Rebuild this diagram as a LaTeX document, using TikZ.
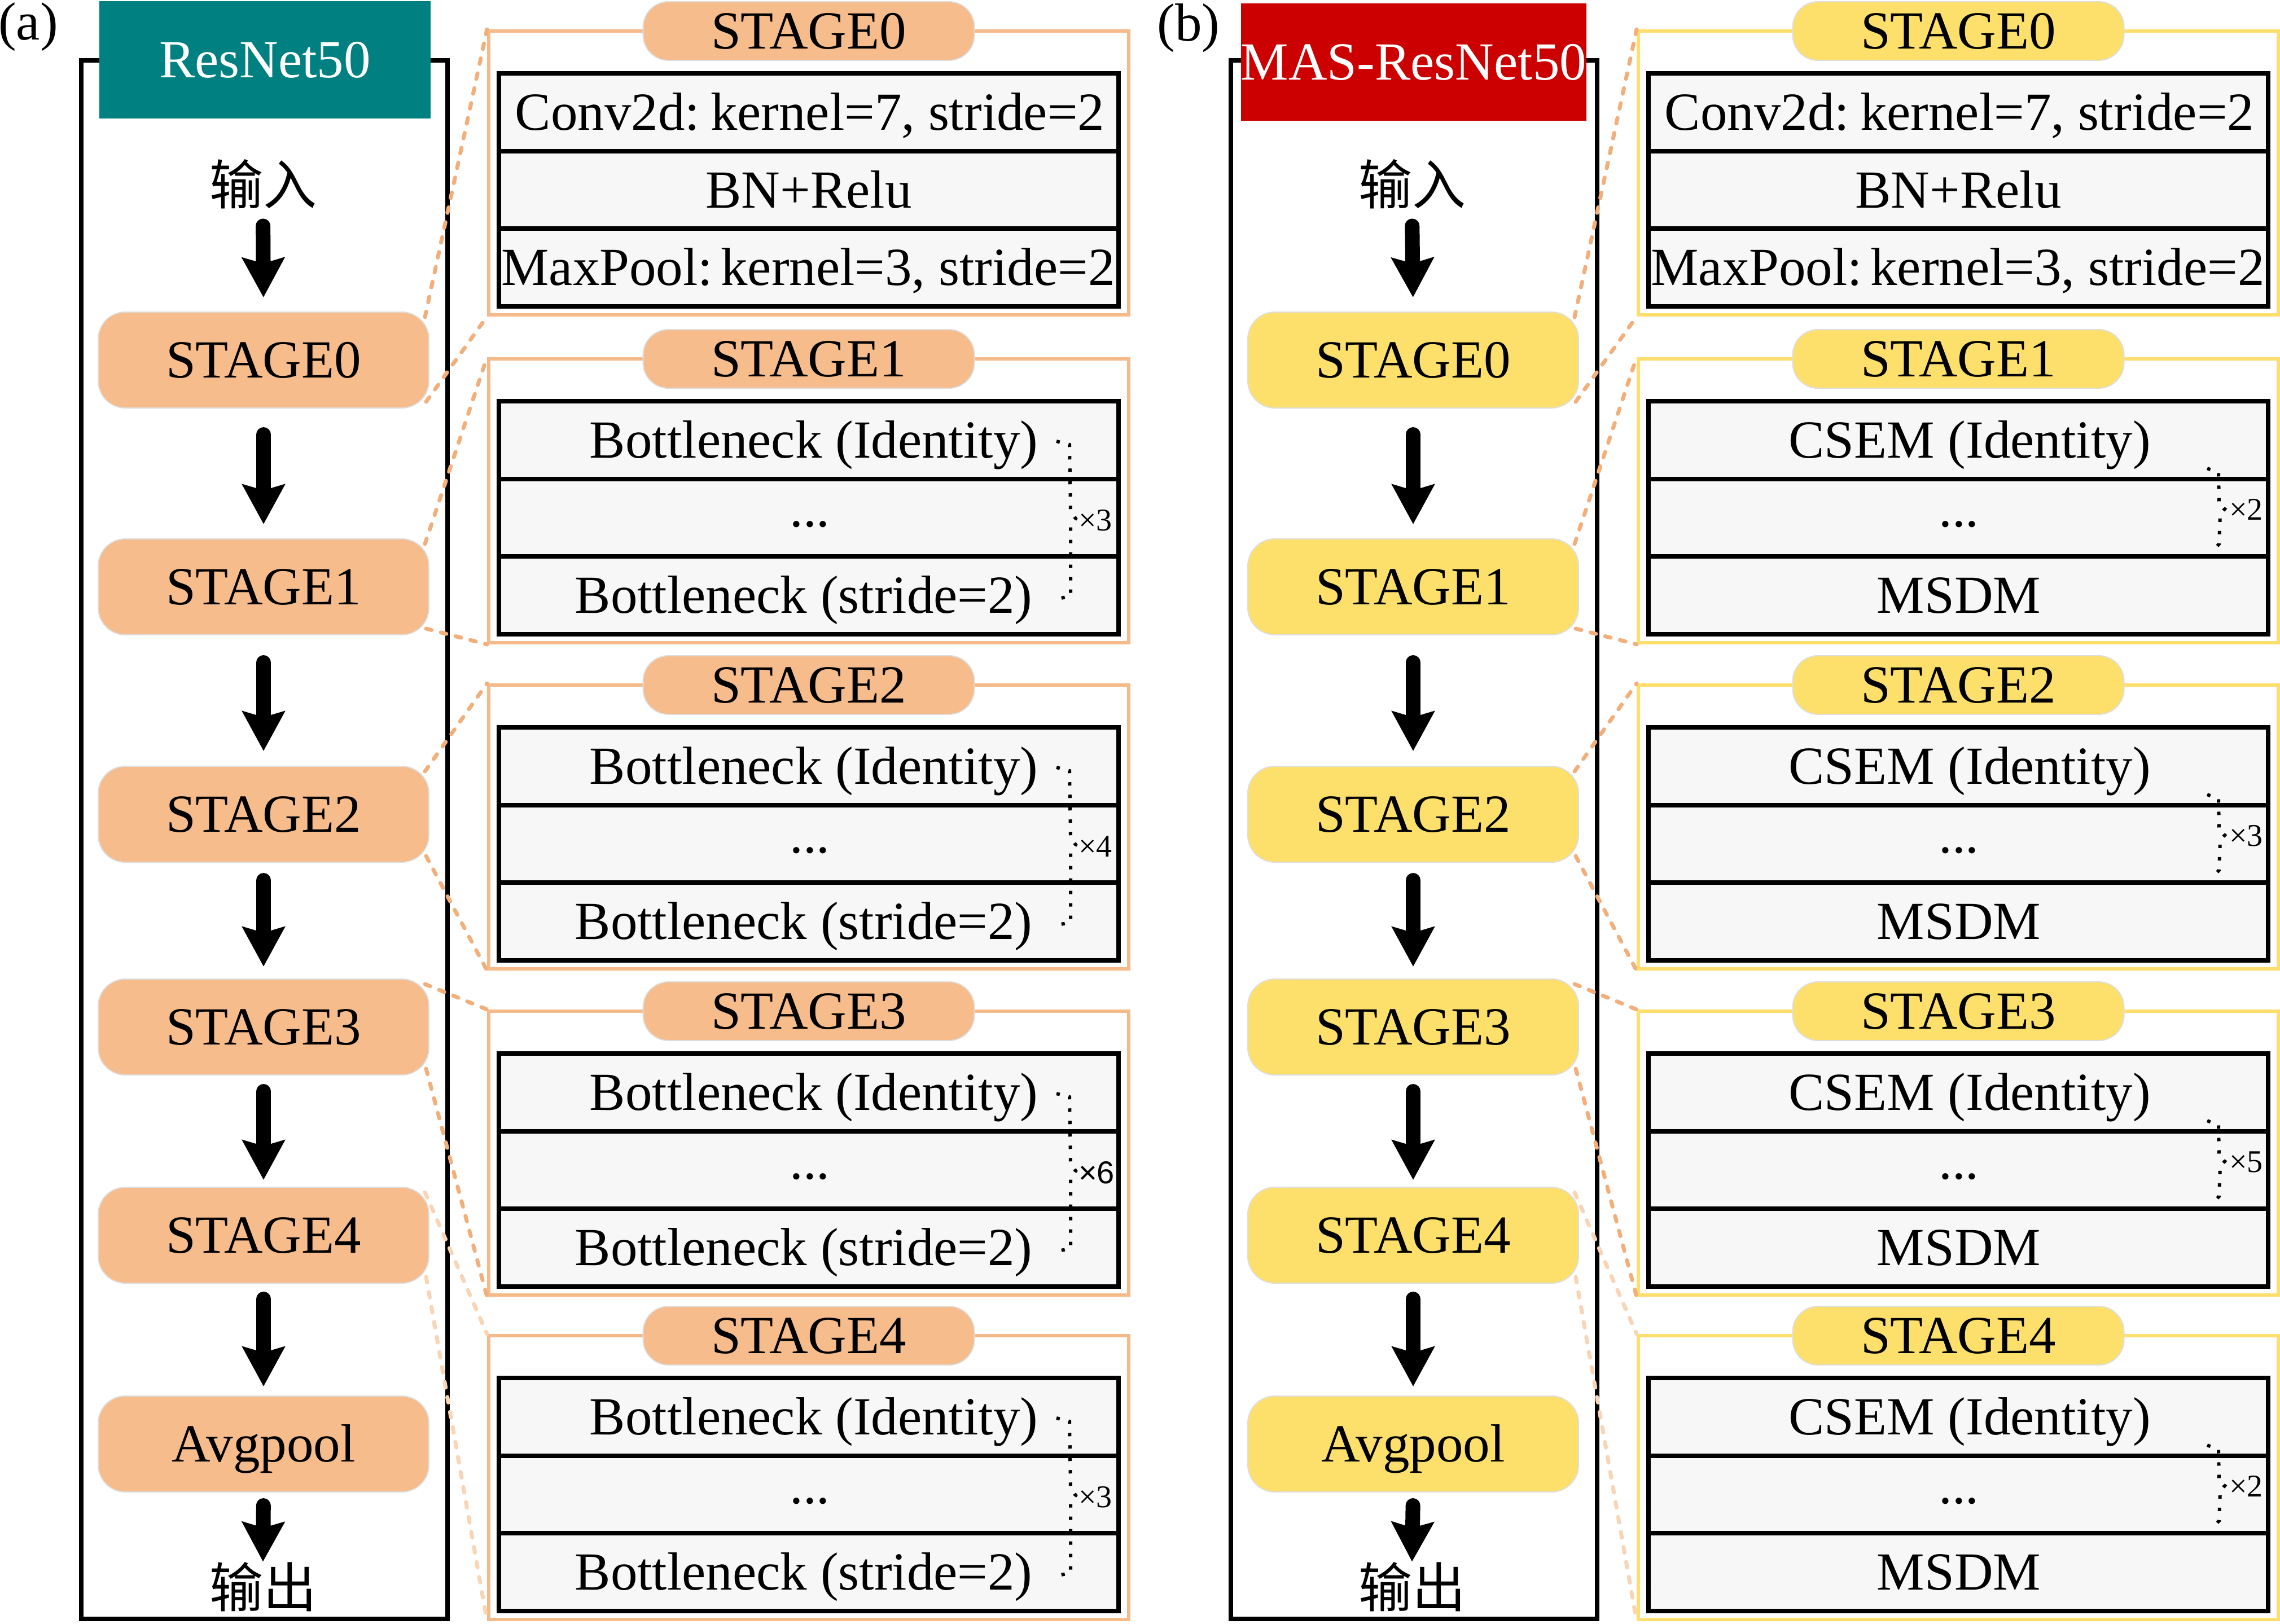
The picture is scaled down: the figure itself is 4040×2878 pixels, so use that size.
\documentclass[tikz,border=0pt]{standalone}
\usepackage{fontspec}
\setmainfont{Liberation Serif}
\newfontfamily\cjkfont{Noto Sans CJK SC}
\newfontfamily\sansx{Liberation Sans}
\usetikzlibrary{arrows.meta,calc}
\definecolor{teal0}{HTML}{008080}
\definecolor{red0}{HTML}{CC0000}
\definecolor{peach}{HTML}{F6BC8C}
\definecolor{gold}{HTML}{FDE06B}
\definecolor{rowgray}{HTML}{F7F7F7}
\definecolor{orline}{HTML}{F5BA8A}
\definecolor{yeline}{HTML}{FFDE6E}
\definecolor{dashor}{HTML}{F2AF7B}
\definecolor{dashfaint}{HTML}{F9D4B5}
\tikzset{
 big/.style={font=\fontsize{95}{100}\selectfont},
 capc/.style={text height=63pt, text depth=0pt, inner sep=0pt},
 outer/.style={draw=black, line width=8pt, minimum width=649pt, minimum height=2762pt, inner sep=0pt},
 head/.style={big, capc, text=white, minimum width=587pt, minimum height=208pt},
 pillL/.style={big, capc, rounded corners=48pt, minimum width=586pt, minimum height=170pt, draw=black!13, line width=2pt},
 pillS/.style={big, capc, rounded corners=45pt, minimum width=587pt, minimum height=104pt, draw=black!13, line width=2pt},
 detframe/.style={line width=6pt, minimum width=1134pt, minimum height=503pt, inner sep=0pt},
 rowbox/.style={draw=black, line width=8pt, fill=rowgray, minimum width=1098pt, minimum height=137.7pt, inner sep=0pt},
 rowtext/.style={big, capc},
 dotsty/.style={big, inner sep=0pt, anchor=base},
 cjk/.style={font=\fontsize{95}{100}\selectfont\cjkfont, inner sep=0pt, text height=81pt, text depth=9.5pt},
 flow/.style={line width=26pt, line cap=round, -{Stealth[length=70pt,width=74pt,inset=10pt]}},
 conn/.style={draw=dashor, line width=7pt, line cap=round, dash pattern=on 10pt off 17pt},
 connfaint/.style={conn, draw=dashfaint},
 bracesty/.style={line width=6pt, dash pattern=on 6pt off 16pt},
 xlab/.style={font=\fontsize{56}{60}\selectfont, inner sep=0pt, anchor=west},
}
\begin{document}
\begin{tikzpicture}[x=1pt,y=-1pt]
\useasboundingbox (0,0) rectangle (4040,2878);

%================ PANEL (a) ================
\node[outer] (aframe) at (468.5,1488) {};
\node[head, fill=teal0] (ahead) at (469.5,106) {ResNet50};
\node[big, anchor=base, inner sep=0pt] (alab) at (50,70) {(a)};
\node[cjk] (ain) at (466,327) {输入};
\node[pillL, fill=peach] (a0) at (467,638) {STAGE0};
\node[pillL, fill=peach] (a1) at (467,1040) {STAGE1};
\node[pillL, fill=peach] (a2) at (467,1443) {STAGE2};
\node[pillL, fill=peach] (a3) at (467,1820) {STAGE3};
\node[pillL, fill=peach] (a4) at (467,2189) {STAGE4};
\node[pillL, fill=peach] (aavg) at (467,2559) {Avgpool};
\node[cjk] (aout) at (466,2813) {输出};

\draw[flow, shorten <=28pt, shorten >=25pt] (ain.south) -- (a0.north);
\draw[flow, shorten <=46pt, shorten >=25pt] (a0.south) -- (a1.north);
\draw[flow, shorten <=48pt, shorten >=26pt] (a1.south) -- (a2.north);
\draw[flow, shorten <=31pt, shorten >=21pt] (a2.south) -- (a3.north);
\draw[flow, shorten <=28pt, shorten >=12pt] (a3.south) -- (a4.north);
\draw[flow, shorten <=27pt, shorten >=16pt] (a4.south) -- (aavg.north);
\draw[flow, shorten <=23pt, shorten >=0pt] (aavg.south) -- (aout.north);

% stage0 detail (a)
\node[detframe, draw=orline] (ad0) at (1433,306.5) {};
\node[rowbox] (ar0-1) at (1433,198.8) {};
\node[rowbox] (ar0-2) at (1433,336.5) {};
\node[rowbox] (ar0-3) at (1433,474.3) {};
\node[rowtext] (at0-1) at (1435,198.8) {Conv2d:\hspace{0.2em}kernel=7, stride=2};
\node[rowtext] (at0-2) at (1433,336.5) {BN+Relu};
\node[rowtext] (at0-3) at (1432,474.3) {MaxPool:\hspace{0.15em}kernel=3, stride=2};
\node[pillS, fill=peach] (ap0) at (1433,55) {STAGE0};

\foreach \k/\T/\n/\f in {1/636/3/\rmfamily, 2/1214/4/\rmfamily, 3/1792/6/\sansx, 4/2367/3/\rmfamily}{
  \node[detframe, draw=orline] (ad\k) at (1433,\T+251.5) {};
  \node[rowbox] (ar\k-1) at (1433,\T+143.8) {};
  \node[rowbox] (ar\k-2) at (1433,\T+281.5) {};
  \node[rowbox] (ar\k-3) at (1433,\T+419.3) {};
  \node[rowtext] (at\k-1) at (1442,\T+143.8) {Bottleneck (Identity)};
  \node[dotsty] (at\k-2) at (1435,\T+297) {...};
  \node[rowtext] (at\k-3) at (1424,\T+419.3) {Bottleneck (stride=2)};
  \node[pillS, fill=peach] (ap\k) at (1433,\T) {STAGE\k};
  \draw[bracesty] (1872,\T+146) -- (1895,\T+152) -- (1897,\T+270) -- (1906,\T+283) -- (1897,\T+296) -- (1897,\T+420) -- (1872,\T+426);
  \node[xlab] (ax\k) at (1911,\T+286) {\f ×\n};
}

\foreach \k in {0,1,2,3}{
  \draw[conn] ([shift={(-8,10)}]a\k.north east) -- (ad\k.north west);
  \draw[conn] ([shift={(-6,-12)}]a\k.south east) -- (ad\k.south west);
}
\draw[connfaint] ([shift={(-8,10)}]a4.north east) -- (ad4.north west);
\draw[connfaint] ([shift={(-6,-12)}]a4.south east) -- (ad4.south west);

%================ PANEL (b) ================
\node[outer] (bframe) at (2505.5,1488) {};
\node[head, fill=red0, minimum width=602pt] (bhead) at (2505,110) {MAS-ResNet50};
\node[big, anchor=base, inner sep=0pt] (blab) at (2106,72) {(b)};
\node[cjk] (bin) at (2502,327) {输入};
\node[pillL, fill=gold] (b0) at (2504,638) {STAGE0};
\node[pillL, fill=gold] (b1) at (2504,1040) {STAGE1};
\node[pillL, fill=gold] (b2) at (2504,1443) {STAGE2};
\node[pillL, fill=gold] (b3) at (2504,1820) {STAGE3};
\node[pillL, fill=gold] (b4) at (2504,2189) {STAGE4};
\node[pillL, fill=gold] (bavg) at (2504,2559) {Avgpool};
\node[cjk] (bout) at (2502,2813) {输出};

\draw[flow, shorten <=28pt, shorten >=25pt] (bin.south) -- (b0.north);
\draw[flow, shorten <=46pt, shorten >=25pt] (b0.south) -- (b1.north);
\draw[flow, shorten <=48pt, shorten >=26pt] (b1.south) -- (b2.north);
\draw[flow, shorten <=31pt, shorten >=21pt] (b2.south) -- (b3.north);
\draw[flow, shorten <=28pt, shorten >=12pt] (b3.south) -- (b4.north);
\draw[flow, shorten <=27pt, shorten >=16pt] (b4.south) -- (bavg.north);
\draw[flow, shorten <=23pt, shorten >=0pt] (bavg.south) -- (bout.north);

% stage0 detail (b)
\node[detframe, draw=yeline] (bd0) at (3470,306.5) {};
\node[rowbox] (br0-1) at (3470,198.8) {};
\node[rowbox] (br0-2) at (3470,336.5) {};
\node[rowbox] (br0-3) at (3470,474.3) {};
\node[rowtext] (bt0-1) at (3472,198.8) {Conv2d:\hspace{0.2em}kernel=7, stride=2};
\node[rowtext] (bt0-2) at (3470,336.5) {BN+Relu};
\node[rowtext] (bt0-3) at (3469,474.3) {MaxPool:\hspace{0.15em}kernel=3, stride=2};
\node[pillS, fill=gold] (bp0) at (3470,55) {STAGE0};

\foreach \k/\T/\n in {1/636/2, 2/1214/3, 3/1792/5, 4/2367/2}{
  \node[detframe, draw=yeline] (bd\k) at (3470,\T+251.5) {};
  \node[rowbox] (br\k-1) at (3470,\T+143.8) {};
  \node[rowbox] (br\k-2) at (3470,\T+281.5) {};
  \node[rowbox] (br\k-3) at (3470,\T+419.3) {};
  \node[rowtext] (bt\k-1) at (3490,\T+143.8) {CSEM (Identity)};
  \node[dotsty] (bt\k-2) at (3471,\T+297) {...};
  \node[rowtext] (bt\k-3) at (3471,\T+419.3) {MSDM};
  \node[pillS, fill=gold] (bp\k) at (3470,\T) {STAGE\k};
  \draw[bracesty] (3911,\T+194) -- (3931,\T+202) -- (3932,\T+258) -- (3942,\T+266) -- (3934,\T+276) -- (3932,\T+328) -- (3923,\T+338);
  \node[xlab] (bx\k) at (3950,\T+267) {×\n};
}

\foreach \k in {0,1,2,3}{
  \draw[conn] ([shift={(-8,10)}]b\k.north east) -- (bd\k.north west);
  \draw[conn] ([shift={(-6,-12)}]b\k.south east) -- (bd\k.south west);
}
\draw[connfaint] ([shift={(-8,10)}]b4.north east) -- (bd4.north west);
\draw[connfaint] ([shift={(-6,-12)}]b4.south east) -- (bd4.south west);
\end{tikzpicture}
\end{document}
